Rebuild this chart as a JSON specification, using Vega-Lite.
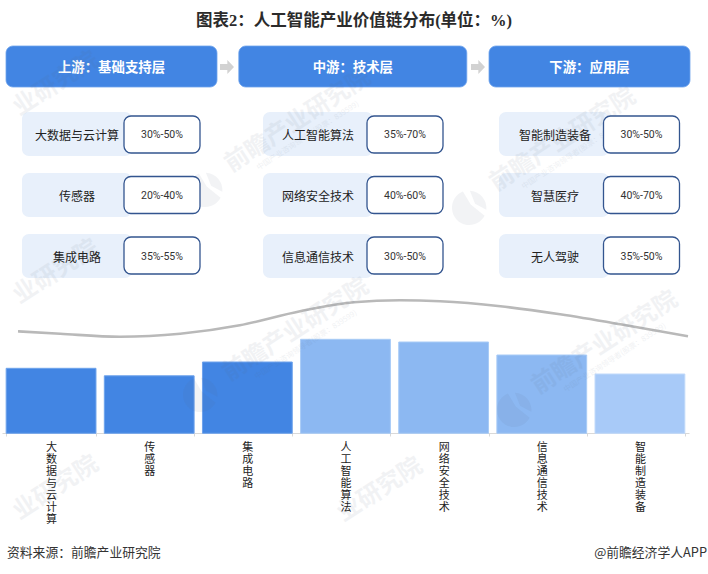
{
  "$schema": "https://vega.github.io/schema/vega-lite/v6.json",
  "width": 708,
  "height": 574,
  "padding": 0,
  "autosize": {"type": "none"},
  "background": "white",
  "title": {
    "text": "图表2\uff1a人工智能产业价值链分布(单位\uff1a%)",
    "font": "Liberation Serif, Noto Sans CJK SC",
    "fontSize": 16.5,
    "fontWeight": "bold",
    "color": "#2b2b2b",
    "anchor": "middle",
    "frame": "group",
    "offset": 0,
    "dy": 29.5
  },
  "datasets": {
    "tiers": [
      {"stage": 1, "header": "上游\uff1a基础支持层"},
      {"stage": 2, "header": "中游\uff1a技术层"},
      {"stage": 3, "header": "下游\uff1a应用层"}
    ],
    "cards": [
      {"stage": 1, "rank": 1, "item": "大数据与云计算", "range": "30%-50%"},
      {"stage": 1, "rank": 2, "item": "传感器", "range": "20%-40%"},
      {"stage": 1, "rank": 3, "item": "集成电路", "range": "35%-55%"},
      {"stage": 2, "rank": 1, "item": "人工智能算法", "range": "35%-70%"},
      {"stage": 2, "rank": 2, "item": "网络安全技术", "range": "40%-60%"},
      {"stage": 2, "rank": 3, "item": "信息通信技术", "range": "30%-50%"},
      {"stage": 3, "rank": 1, "item": "智能制造装备", "range": "30%-50%"},
      {"stage": 3, "rank": 2, "item": "智慧医疗", "range": "40%-70%"},
      {"stage": 3, "rank": 3, "item": "无人驾驶", "range": "35%-50%"}
    ],
    "bars": [
      {"item": "大数据与云计算", "tier": "上游", "share": 65},
      {"item": "传感器", "tier": "上游", "share": 57.5},
      {"item": "集成电路", "tier": "上游", "share": 71.3},
      {"item": "人工智能算法", "tier": "中游", "share": 94},
      {"item": "网络安全技术", "tier": "中游", "share": 91.3},
      {"item": "信息通信技术", "tier": "中游", "share": 78.3},
      {"item": "智能制造装备", "tier": "下游", "share": 59.3}
    ],
    "curve": [
      {"pos": 0, "level": 102},
      {"pos": 6.3, "level": 99.5},
      {"pos": 15.2, "level": 96.5},
      {"pos": 24.2, "level": 99.5},
      {"pos": 33.1, "level": 108},
      {"pos": 42.1, "level": 122},
      {"pos": 50.1, "level": 131},
      {"pos": 57, "level": 133},
      {"pos": 63, "level": 132},
      {"pos": 72, "level": 127},
      {"pos": 80.9, "level": 119},
      {"pos": 89.9, "level": 109},
      {"pos": 95.8, "level": 102},
      {"pos": 100, "level": 97}
    ],
    "notes": [
      {"side": 1, "note": "资料来源\uff1a前瞻产业研究院"},
      {"side": 2, "note": "@前瞻经济学人APP"}
    ],
    "marks": [
      {"slot": 1, "label": "业研究院"},
      {"slot": 2, "label": "业研究院"},
      {"slot": 3, "label": "业研究院"},
      {"slot": 4, "label": "前瞻产业研究院", "sub": "中国产业咨询领导者(股票\uff1a839599)"},
      {"slot": 5, "label": "前瞻产业研究院", "sub": "中国产业咨询领导者(股票\uff1a839599)"},
      {"slot": 6, "label": "业研究院"},
      {"slot": 7, "label": "前瞻产业研究院", "sub": "中国产业咨询领导者(股票\uff1a839599)"},
      {"slot": 8, "label": "前瞻产业研究院", "sub": "中国产业咨询领导者(股票\uff1a839599)"}
    ]
  },
  "layer": [
    {
      "data": {"name": "tiers"},
      "mark": {
        "type": "rect",
        "width": {"expr": "datum.stage==1?211:datum.stage==2?228:201"},
        "height": 41,
        "cornerRadius": 7,
        "fill": "#4285e3",
        "stroke": "#6ea3ec",
        "strokeWidth": 0.8
      },
      "encoding": {
        "x": {"field": "stage", "type": "quantitative", "scale": {"domain": [1, 2, 3], "range": [111.5, 352.8, 589.5]}, "axis": null},
        "y": {"field": "stage", "type": "quantitative", "scale": {"domain": [1, 3], "range": [66.5, 66.5]}, "axis": null}
      }
    },
    {
      "data": {"name": "tiers"},
      "mark": {"type": "text", "font": "Noto Sans CJK SC", "fontSize": 13.4, "fontWeight": "bold", "color": "white", "baseline": "middle"},
      "encoding": {
        "x": {"field": "stage", "type": "quantitative", "scale": {"domain": [1, 2, 3], "range": [111.5, 352.8, 589.5]}, "axis": null},
        "y": {"field": "stage", "type": "quantitative", "scale": {"domain": [1, 3], "range": [67.5, 67.5]}, "axis": null},
        "text": {"field": "header"}
      }
    },
    {
      "data": {"name": "tiers"},
      "transform": [{"filter": "datum.stage<3"}],
      "mark": {"type": "point", "filled": true, "shape": "M-1,-0.42 L0.05,-0.42 L0.05,-1 L1,0 L0.05,1 L0.05,0.42 L-1,0.42 Z", "size": 196, "color": "#d2d2d2", "opacity": 1},
      "encoding": {
        "x": {"field": "stage", "type": "quantitative", "scale": {"domain": [1, 2], "range": [227, 478]}, "axis": null},
        "y": {"field": "stage", "type": "quantitative", "scale": {"domain": [1, 2], "range": [67, 67]}, "axis": null}
      }
    },
    {
      "data": {"name": "cards"},
      "mark": {"type": "rect", "width": 110, "height": 44, "cornerRadius": 7, "fill": "#e8f0fb"},
      "encoding": {
        "x": {"field": "stage", "type": "quantitative", "scale": {"domain": [1, 2, 3], "range": [77, 318, 554]}, "axis": null},
        "y": {"field": "rank", "type": "quantitative", "scale": {"domain": [1, 3], "range": [134, 256]}, "axis": null}
      }
    },
    {
      "data": {"name": "bars"},
      "mark": {"type": "bar", "strokeWidth": 1},
      "encoding": {
        "x": {
          "field": "item",
          "type": "nominal",
          "sort": null,
          "scale": {"type": "band", "range": [2, 689], "paddingInner": 0.085, "paddingOuter": 0.0425},
          "axis": {
            "title": null,
            "orient": "bottom",
            "offset": -141,
            "labelAngle": 0,
            "labelAlign": "center",
            "labelBaseline": "top",
            "labelPadding": 5,
            "labelFont": "Noto Sans CJK SC",
            "labelFontSize": 11,
            "labelLineHeight": 12,
            "labelColor": "#222222",
            "labelOverlap": false,
            "labelExpr": "split(datum.label,'')",
            "tickBand": "extent",
            "tickSize": 3,
            "tickColor": "#d9d9d9",
            "domainColor": "#d9d9d9",
            "grid": false
          }
        },
        "y": {"field": "share", "type": "quantitative", "scale": {"domain": [0, 100], "range": [433.3, 333.3]}, "axis": null},
        "fill": {"field": "tier", "type": "nominal", "scale": {"domain": ["上游", "中游", "下游"], "range": ["#4285e3", "#8cb8f2", "#a8caf8"]}, "legend": null},
        "stroke": {"field": "tier", "type": "nominal", "scale": {"domain": ["上游", "中游", "下游"], "range": ["#6ea3ec", "#a8cbf6", "#c0d9fa"]}, "legend": null}
      }
    },
    {
      "data": {"name": "curve"},
      "mark": {"type": "line", "interpolate": "monotone", "color": "#b9b9b9", "strokeWidth": 2.6},
      "encoding": {
        "x": {"field": "pos", "type": "quantitative", "scale": {"domain": [0, 100], "range": [18, 688]}, "axis": null},
        "y": {"field": "level", "type": "quantitative", "scale": {"domain": [0, 100], "range": [433.3, 333.3]}, "axis": null}
      }
    },
    {
      "data": {"name": "notes"},
      "mark": {"type": "text", "font": "Noto Sans CJK SC", "fontSize": 12.8, "color": "#333333", "baseline": "middle", "align": {"expr": "datum.side==1?'left':'right'"}},
      "encoding": {
        "x": {"field": "side", "type": "quantitative", "scale": {"domain": [1, 2], "range": [7, 707]}, "axis": null},
        "y": {"field": "side", "type": "quantitative", "scale": {"domain": [1, 2], "range": [553, 553]}, "axis": null},
        "text": {"field": "note"}
      }
    },
    {
      "data": {"name": "marks"},
      "mark": {"type": "text", "font": "Noto Sans CJK SC", "fontSize": 24, "fontWeight": "bold", "angle": -33, "color": "#5a6b80", "opacity": 0.08, "baseline": "middle"},
      "encoding": {
        "x": {"field": "slot", "type": "quantitative", "scale": {"domain": [1, 2, 3, 4, 5, 6, 7, 8], "range": [56, 56, 56, 298, 296, 380, 563, 605]}, "axis": null},
        "y": {"field": "slot", "type": "quantitative", "scale": {"domain": [1, 2, 3, 4, 5, 6, 7, 8], "range": [84, 272, 488, 121, 330, 490, 140, 343]}, "axis": null},
        "text": {"field": "label"}
      }
    },
    {
      "data": {"name": "marks"},
      "transform": [{"filter": "datum.sub"}],
      "mark": {"type": "text", "font": "Noto Sans CJK SC", "fontSize": 7.5, "angle": -33, "color": "#5a6b80", "opacity": 0.09, "baseline": "middle"},
      "encoding": {
        "x": {"field": "slot", "type": "quantitative", "scale": {"domain": [4, 5, 7, 8], "range": [308, 306, 573, 615]}, "axis": null},
        "y": {"field": "slot", "type": "quantitative", "scale": {"domain": [4, 5, 7, 8], "range": [136, 345, 155, 358]}, "axis": null},
        "text": {"field": "sub"}
      }
    },
    {
      "data": {"name": "marks"},
      "transform": [{"filter": "datum.sub"}],
      "mark": {"type": "point", "filled": true, "shape": "M-0.35,-0.95 A1,1 0 1 0 0.9,0.45 L0.1,-0.2 Z M0.05,-1 A1,1 0 0 1 1,0.1 L0.35,-0.25 Z", "size": 1200, "color": "#5a6b80", "opacity": 0.08},
      "encoding": {
        "x": {"field": "slot", "type": "quantitative", "scale": {"domain": [4, 5, 7, 8], "range": [205, 200, 469, 514]}, "axis": null},
        "y": {"field": "slot", "type": "quantitative", "scale": {"domain": [4, 5, 7, 8], "range": [190, 395, 208, 410]}, "axis": null}
      }
    },
    {
      "data": {"name": "cards"},
      "mark": {"type": "text", "font": "Noto Sans CJK SC", "fontSize": 12, "color": "#222222", "baseline": "middle"},
      "encoding": {
        "x": {"field": "stage", "type": "quantitative", "scale": {"domain": [1, 2, 3], "range": [77, 318, 555]}, "axis": null},
        "y": {"field": "rank", "type": "quantitative", "scale": {"domain": [1, 3], "range": [136, 257.5]}, "axis": null},
        "text": {"field": "item"}
      }
    },
    {
      "data": {"name": "cards"},
      "mark": {"type": "rect", "width": 76, "height": 37, "cornerRadius": 7, "fill": "white", "stroke": "#33558f", "strokeWidth": 1.3},
      "encoding": {
        "x": {"field": "stage", "type": "quantitative", "scale": {"domain": [1, 2, 3], "range": [162, 405, 641.5]}, "axis": null},
        "y": {"field": "rank", "type": "quantitative", "scale": {"domain": [1, 3], "range": [134.5, 255.5]}, "axis": null}
      }
    },
    {
      "data": {"name": "cards"},
      "mark": {"type": "text", "font": "Roboto", "fontSize": 10.5, "color": "#333333", "baseline": "middle"},
      "encoding": {
        "x": {"field": "stage", "type": "quantitative", "scale": {"domain": [1, 2, 3], "range": [162, 405, 641.5]}, "axis": null},
        "y": {"field": "rank", "type": "quantitative", "scale": {"domain": [1, 3], "range": [135, 257]}, "axis": null},
        "text": {"field": "range"}
      }
    }
  ],
  "resolve": {
    "scale": {"x": "independent", "y": "independent", "fill": "independent", "stroke": "independent"},
    "axis": {"x": "independent", "y": "independent"}
  },
  "config": {"view": {"stroke": null}}
}
